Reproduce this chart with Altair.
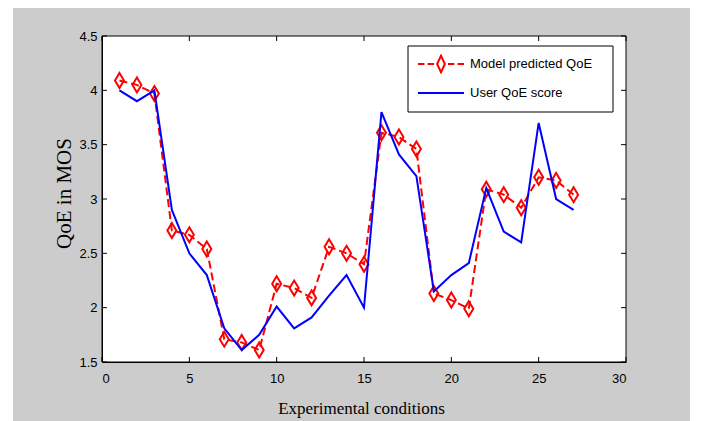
import altair as alt
import pandas as pd

# ---- data ----
conditions = list(range(1, 28))
model_qoe = [4.09, 4.05, 3.97, 2.71, 2.67, 2.54, 1.71, 1.68, 1.61, 2.22, 2.18, 2.09,
             2.56, 2.50, 2.40, 3.61, 3.57, 3.46, 2.13, 2.07, 1.99, 3.09, 3.04, 2.92,
             3.20, 3.17, 3.04]
user_qoe = [4.00, 3.90, 4.00, 2.90, 2.50, 2.30, 1.81, 1.61, 1.75, 2.01, 1.81, 1.91,
            2.11, 2.30, 2.00, 3.80, 3.41, 3.21, 2.15, 2.30, 2.41, 3.10, 2.70, 2.60,
            3.70, 3.00, 2.90]
series_names = ["Model predicted QoE", "User QoE score"]
x_ticks = [0, 5, 10, 15, 20, 25, 30]
y_ticks = [1.5, 2.0, 2.5, 3.0, 3.5, 4.0, 4.5]

W, H = 524, 326

df = pd.DataFrame({
    "cond": conditions * 2,
    "qoe": model_qoe + user_qoe,
    "series": [series_names[0]] * len(conditions) + [series_names[1]] * len(conditions),
})
df_model = df[df.series == series_names[0]]
df_user = df[df.series == series_names[1]]
xt = pd.DataFrame({"t": x_ticks})
yt = pd.DataFrame({"t": y_ticks})
one = alt.Data(values=[{}])

xscale = alt.Scale(domain=[0, 30], nice=False, zero=False)
yscale = alt.Scale(domain=[1.5, 4.5], nice=False, zero=False)

xaxis = alt.Axis(values=x_ticks, format="~g", grid=False, ticks=False, tickSize=0,
                 labelFont="Liberation Sans", labelFontSize=13, labelColor="black",
                 labelPadding=10, domain=True, domainColor="black", domainWidth=1,
                 title="Experimental conditions", titleFont="Liberation Serif",
                 titleFontSize=17, titleFontWeight="normal", titleColor="black",
                 titleX=259, titleY=51, titleAlign="center", titleBaseline="alphabetic",
                 zindex=1)
yaxis = alt.Axis(values=y_ticks, format="~g", grid=False, ticks=False, tickSize=0,
                 labelFont="Liberation Sans", labelFontSize=13, labelColor="black",
                 labelPadding=5, domain=True, domainColor="black", domainWidth=1,
                 title="QoE in MOS", titleFont="Liberation Serif", titleFontSize=21,
                 titleFontWeight="normal", titleColor="black", titleAngle=270,
                 titleX=-38, titleY=157, titleAlign="center", titleBaseline="middle",
                 zindex=1)

X = alt.X("cond:Q", scale=xscale, axis=xaxis)
Y = alt.Y("qoe:Q", scale=yscale, axis=yaxis)

# figure background (MATLAB grey) and white axes box
bg = alt.Chart(one).mark_rect(color="#cccccc").encode(
    x=alt.value(-89), x2=alt.value(W + 64), y=alt.value(-28), y2=alt.value(H + 59))
box = alt.Chart(one).mark_rect(fill="white", stroke="black", strokeWidth=1).encode(
    x=alt.value(0), x2=alt.value(W), y=alt.value(0), y2=alt.value(H))

# inward ticks on all four sides
tb = alt.Chart(xt).mark_rule(color="black", strokeWidth=1).encode(
    x=alt.X("t:Q", scale=xscale, axis=xaxis), y=alt.value(H - 5), y2=alt.value(H))
tt = alt.Chart(xt).mark_rule(color="black", strokeWidth=1).encode(
    x=alt.X("t:Q", scale=xscale, axis=xaxis), y=alt.value(0), y2=alt.value(5))
tl = alt.Chart(yt).mark_rule(color="black", strokeWidth=1).encode(
    y=alt.Y("t:Q", scale=yscale, axis=yaxis), x=alt.value(0), x2=alt.value(5))
tr = alt.Chart(yt).mark_rule(color="black", strokeWidth=1).encode(
    y=alt.Y("t:Q", scale=yscale, axis=yaxis), x=alt.value(W - 5), x2=alt.value(W))

red_line = alt.Chart(df_model).mark_line(color="#ff0000", strokeWidth=2,
                                         strokeDash=[8, 4]).encode(x=X, y=Y)
diamond = "M0,-1L0.6,0L0,1L-0.6,0Z"
red_pts = alt.Chart(df_model).mark_point(color="#ff0000", shape=diamond, size=225,
                                         filled=False, strokeWidth=2, opacity=1).encode(x=X, y=Y)
blue_line = alt.Chart(df_user).mark_line(color="#0000ff", strokeWidth=2).encode(x=X, y=Y)

# legend
leg_frame = alt.Chart(one).mark_rect(fill="white", stroke="black", strokeWidth=1).encode(
    x=alt.value(306), x2=alt.value(511), y=alt.value(10), y2=alt.value(76))
red_sym = ("M-1,0L-0.72,0M-0.58,0L-0.3,0M0.3,0L0.58,0M0.72,0L1,0"
           "M0,-0.36L0.17,0L0,0.36L-0.17,0Z")
blue_sym = "M-1,0L1,0"
legend = alt.Legend(title=None, orient="none", legendX=305, legendY=8, padding=10,
                    clipHeight=20, rowPadding=9, labelFont="Liberation Sans", labelFontSize=13,
                    labelColor="black", labelOffset=5, symbolSize=2116,
                    symbolStrokeWidth=2)
leg = alt.Chart(df).transform_filter("false").mark_point(filled=False, strokeWidth=2,
                                                           opacity=1).encode(
    color=alt.Color("series:N", scale=alt.Scale(domain=series_names, range=["#ff0000", "#0000ff"]),
                    legend=legend),
    shape=alt.Shape("series:N", scale=alt.Scale(domain=series_names, range=[red_sym, blue_sym]),
                    legend=legend),
)

chart = alt.layer(bg, box, tb, tt, tl, tr, red_line, red_pts, blue_line, leg_frame, leg).properties(
    width=W, height=H,
    autosize=alt.AutoSizeParams(type="none"),
    padding={"left": 94, "top": 28, "right": 64, "bottom": 59},
    background="white",
).configure_view(stroke=None)

chart.save("out.html", embed_options={"renderer": "svg", "actions": False})
